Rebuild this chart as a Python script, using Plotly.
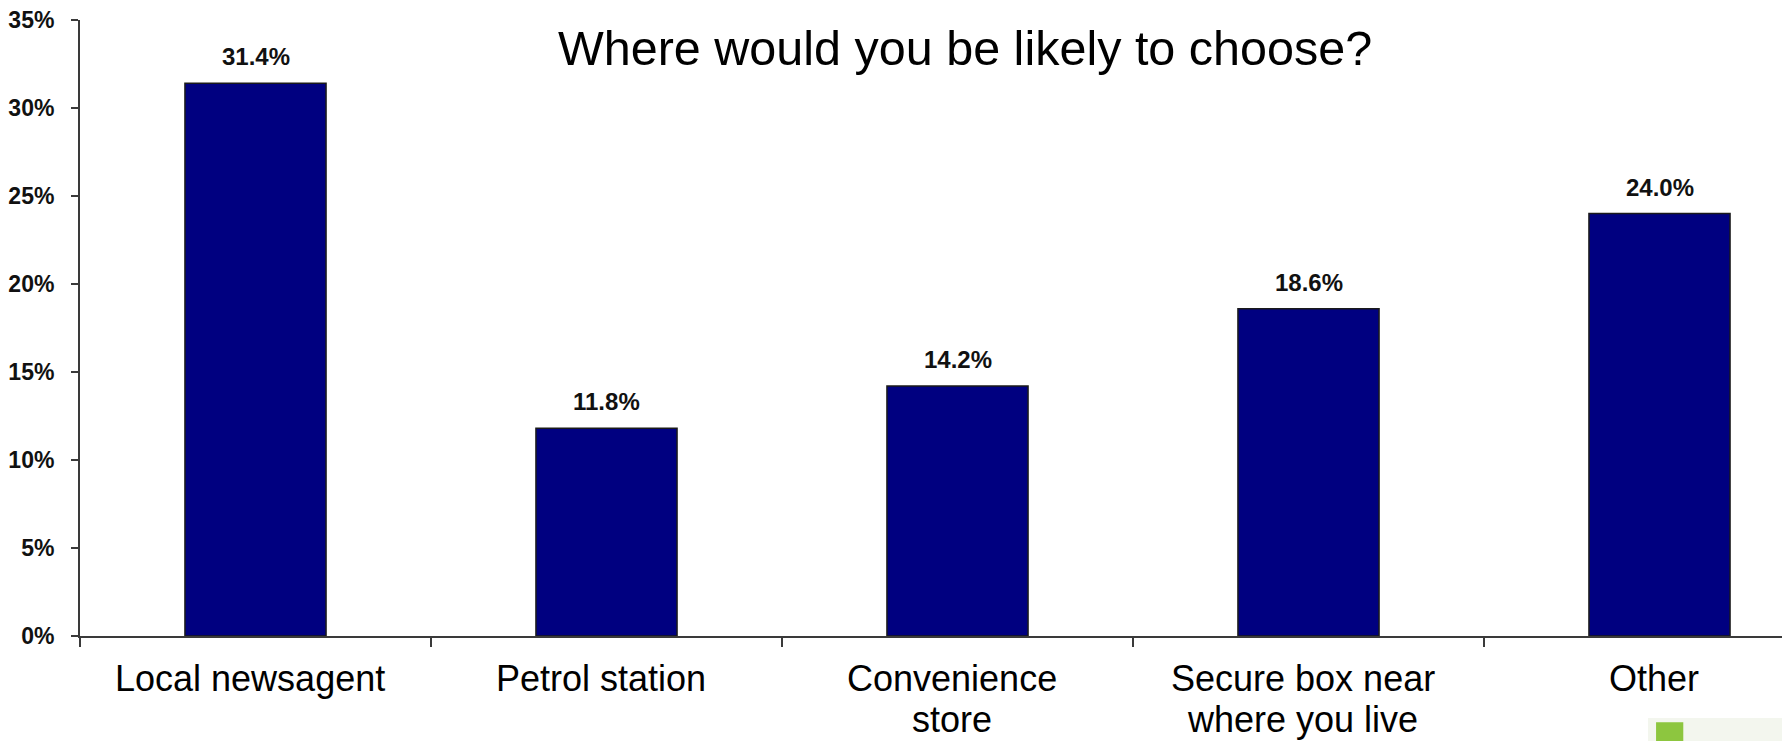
import plotly.graph_objects as go

# ---- data ----
categories = ["Local newsagent", "Petrol station", "Convenience store",
              "Secure box near where you live", "Other"]
values = [31.4, 11.8, 14.2, 18.6, 24.0]
category_lines = [["Local newsagent"], ["Petrol station"], ["Convenience", "store"],
                  ["Secure box near", "where you live"], ["Other"]]
y_tick_values = [0, 5, 10, 15, 20, 25, 30, 35]
y_tick_labels = ["0%", "5%", "10%", "15%", "20%", "25%", "30%", "35%"]
title_text = "Where would you be likely to choose?"

FONT = "Liberation Sans, Arial, sans-serif"
AXIS_COLOR = "#3a3a3a"

fig = go.Figure()
fig.add_trace(go.Bar(
    x=categories, y=values,
    marker=dict(color="#000080", line=dict(color="#1a1a1a", width=1.5)),
    hoverinfo="x+y",
))

annotations = []
# data labels
for c, v in zip(categories, values):
    annotations.append(dict(
        x=c, y=v, xref="x", yref="y", text=f"{v:.1f}%", showarrow=False,
        yanchor="bottom", yshift=11,
        font=dict(family=FONT, size=24, color="#111111", weight="bold"),
    ))
# category labels (one annotation per line for tight line spacing)
for c, lines in zip(categories, category_lines):
    for j, line in enumerate(lines):
        annotations.append(dict(
            x=c, y=0, xref="x", yref="y", text=line, showarrow=False,
            yanchor="top", yshift=-(21 + 41 * j), xshift=-6, borderpad=0,
            font=dict(family=FONT, size=36, color="#000000"),
        ))
# title
annotations.append(dict(
    x=0.52, y=0.908, xref="paper", yref="paper", text=title_text,
    showarrow=False, xanchor="center", yanchor="bottom",
    font=dict(family=FONT, size=48.5, color="#000000"),
))

fig.update_layout(
    width=1782, height=741,
    margin=dict(l=80, r=0, t=20, b=105),
    paper_bgcolor="white", plot_bgcolor="white",
    bargap=0.598,
    showlegend=False,
    annotations=annotations,
    shapes=[
        dict(type="rect", xref="paper", yref="paper",
             x0=0.9213, x1=1.0, y0=-0.1705, y1=-0.1330,
             fillcolor="#f3f6ee", line=dict(width=0), layer="below"),
        dict(type="rect", xref="paper", yref="paper",
             x0=0.9260, x1=0.9420, y0=-0.1705, y1=-0.1400,
             fillcolor="#8dc63f", line=dict(width=0)),
    ],
)

fig.update_xaxes(
    type="category", range=[-0.5, 4.349],
    showticklabels=False, tickson="boundaries",
    ticks="outside", ticklen=9, tickwidth=2, tickcolor=AXIS_COLOR,
    showline=True, linecolor=AXIS_COLOR, linewidth=2,
    showgrid=False, zeroline=False, fixedrange=True,
)
fig.update_yaxes(
    range=[0, 35], tickmode="array", tickvals=y_tick_values, ticktext=y_tick_labels,
    ticks="outside", ticklen=7, tickwidth=2, tickcolor=AXIS_COLOR,
    ticklabelstandoff=12,
    tickfont=dict(family=FONT, size=23, color="#111111", weight="bold"),
    showline=True, linecolor=AXIS_COLOR, linewidth=2,
    showgrid=False, zeroline=False, fixedrange=True,
)

fig.write_html("out.html")
